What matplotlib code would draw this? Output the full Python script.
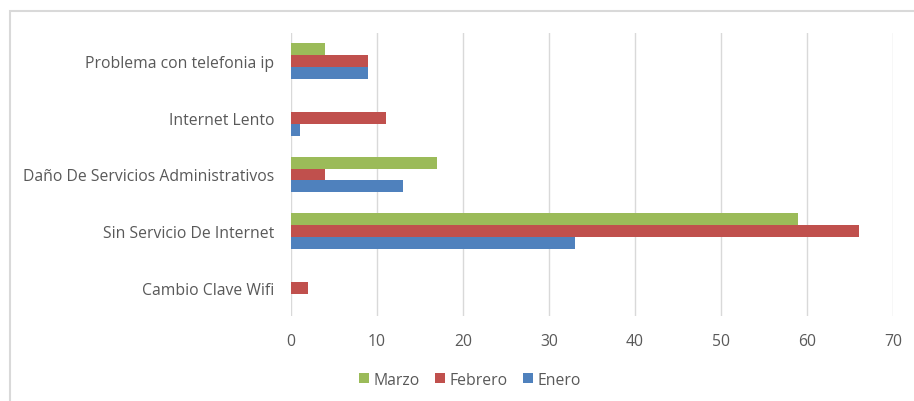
import numpy as np
import matplotlib
matplotlib.use("Agg")
import matplotlib.pyplot as plt
from matplotlib.patches import Rectangle

# categories from bottom to top
categories = ['Cambio Clave Wifi', 'Sin Servicio De Internet',
              'Daño De Servicios Administrativos', 'Internet Lento',
              'Problema con telefonia ip']
enero = [0, 33, 13, 1, 9]
febrero = [2, 66, 4, 11, 9]
marzo = [0, 59, 17, 0, 4]
xticks = [0, 10, 20, 30, 40, 50, 60, 70]

plt.rcParams['font.family'] = ['Open Sans', 'DejaVu Sans']
txt = '#595959'

fig = plt.figure(figsize=(9.14, 4.02), dpi=100)
ax = fig.add_axes([291/914, 85/402, 602/914, 283/402])

y = np.arange(len(categories))
h = 0.21
ax.barh(y - h, enero, h, color='#4F81BD', lw=0, label='Enero')
ax.barh(y, febrero, h, color='#C0504D', lw=0, label='Febrero')
ax.barh(y + h, marzo, h, color='#9BBB59', lw=0, label='Marzo')

ax.set_xlim(0, 70)
ax.set_ylim(-0.5, len(categories) - 0.5)
ax.set_xticks(xticks)
ax.set_yticks(y)
ax.set_yticklabels(categories)
ax.tick_params(axis='both', length=0, labelsize=11.3, colors=txt)
ax.tick_params(axis='x', pad=12)
ax.tick_params(axis='y', pad=12)
for s in ax.spines.values():
    s.set_visible(False)
ax.grid(axis='x', color='#d9d9d9', lw=1)
ax.set_axisbelow(True)

handles, labels = ax.get_legend_handles_labels()
leg = fig.legend(handles[::-1], labels[::-1], loc='center', bbox_to_anchor=(470/914, 1 - 381/402),
                 ncol=3, frameon=False, fontsize=11.3, handlelength=0.6, handleheight=0.6,
                 handletextpad=0.3, columnspacing=1.0)
for t in leg.get_texts():
    t.set_color(txt)

fig.patches.append(Rectangle((10/914, -0.01), 1.0, 1 - 12/402 + 0.01, transform=fig.transFigure,
                             fill=False, edgecolor='#d9d9d9', lw=1.5))

fig.savefig('out.png', dpi=100)
